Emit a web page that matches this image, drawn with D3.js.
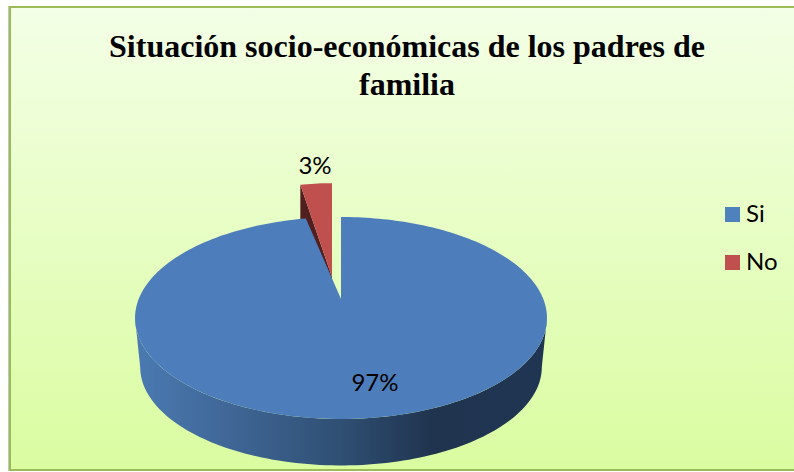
<!DOCTYPE html>
<html>
<head>
<meta charset="utf-8">
<script src="https://cdn.jsdelivr.net/npm/d3@7"></script>
<style>
  html, body { margin: 0; padding: 0; background: #fff; overflow: hidden; }
  svg { display: block; }
</style>
</head>
<body>
<div id="chart"></div>
<script>
// values (labels round to 97% / 3%)
const categories = ["Si", "No"];
const values = [96.7, 3.3];
const colors = ["#4f81bd", "#c0504d"];
const titleLines = ["Situación socio-económicas de los padres de", "familia"];

const W = 794, H = 472;

const svg = d3.select("#chart").append("svg").attr("width", W).attr("height", H);
const defs = svg.append("defs");

const bg = defs.append("linearGradient").attr("id", "bg").attr("x1", 0).attr("x2", 0).attr("y1", 0).attr("y2", 1);
bg.append("stop").attr("offset", "0%").attr("stop-color", "#f3ffe6");
bg.append("stop").attr("offset", "100%").attr("stop-color", "#dafca0");

const wall = defs.append("linearGradient").attr("id", "wall").attr("x1", 0).attr("x2", 1).attr("y1", 0).attr("y2", 0);
[[0, "#4a7ab2"], [0.2, "#41699a"], [0.5, "#2f4f73"], [0.72, "#20344f"], [1, "#1f3552"]].forEach(s => {
  wall.append("stop").attr("offset", s[0]).attr("stop-color", s[1]);
});

// frame
svg.append("rect").attr("x", 8).attr("y", 6).attr("width", W).attr("height", 465).attr("fill", "#c4c8bc");
svg.append("rect").attr("x", 10).attr("y", 7).attr("width", W).attr("height", 463)
  .attr("fill", "url(#bg)").attr("stroke", "#9bbb59").attr("stroke-width", 2);

// title
svg.append("g").selectAll("text").data(titleLines).join("text")
  .attr("x", 407)
  .attr("y", (d, i) => 57 + i * 38)
  .attr("text-anchor", "middle")
  .attr("font-family", "'Liberation Serif', serif")
  .attr("font-weight", "bold")
  .attr("font-size", 32)
  .text(d => d);

// the pie is tilted with a bit of perspective: the front is bigger than the back
const k = 0.188, R = 202.3, B = 97.4;
const depth = { dy: 49.5, s: 0.975 };
const cx = 341, cy = 299;

function project(a, o) {
  const u = Math.sin(a), v = -Math.cos(a), w = 1 - k * v;
  return [o.x + o.sx * R * u / w, o.y + o.sy * B * v / w];
}
const line = d3.line();
function arcPoints(a0, a1, o) {
  const n = Math.max(2, Math.ceil(Math.abs(a1 - a0) * 40));
  return d3.range(n + 1).map(i => project(a0 + (a1 - a0) * i / n, o));
}

const slices = d3.pie().sort(null).value(d => d)(values);
const si = slices[0], no = slices[1];

const siTop = { x: cx, y: cy, sx: 1, sy: 1 };
const siBottom = { x: cx, y: cy + depth.dy, sx: depth.s, sy: depth.s };
const noTop = { x: cx - 9, y: cy - 22, sx: 0.9, sy: 1.145 };

// exploded slice, dark cut face first
const apexNo = [noTop.x, noTop.y];
const leftNo = project(no.startAngle - 2 * Math.PI, noTop);
svg.append("path")
  .attr("d", line([leftNo, apexNo, [apexNo[0], apexNo[1] + 40], [leftNo[0], leftNo[1] + 40]]) + "Z")
  .attr("fill", "#521f20");
svg.append("path")
  .attr("d", line([apexNo].concat(arcPoints(no.startAngle - 2 * Math.PI, no.endAngle - 2 * Math.PI, noTop))) + "Z")
  .attr("fill", colors[1]);

// outer wall of the big slice
const edge = Math.acos(-k);
const wallPts = arcPoints(edge, 2 * Math.PI - edge, siTop).concat(arcPoints(2 * Math.PI - edge, edge, siBottom));
svg.append("path").attr("d", line(wallPts) + "Z").attr("fill", "url(#wall)");

// top face of the big slice
svg.append("path")
  .attr("d", line([[cx, cy]].concat(arcPoints(si.startAngle, si.endAngle, siTop))) + "Z")
  .attr("fill", "#4d7ebb");

// data labels
const labelFont = "Lato, 'Noto Sans', sans-serif";
const pct = d3.format(".0%");
const total = d3.sum(values);
const labelPos = [[375, 391], [315, 174]];
svg.append("g").selectAll("text").data(slices).join("text")
  .attr("x", (d, i) => labelPos[i][0])
  .attr("y", (d, i) => labelPos[i][1])
  .attr("text-anchor", "middle")
  .attr("font-family", labelFont)
  .attr("font-size", 24)
  .attr("fill", "#000")
  .text(d => pct(d.data / total));

// legend
const legend = svg.append("g").selectAll("g").data(categories).join("g")
  .attr("transform", (d, i) => `translate(725,${207 + i * 48})`);
legend.append("rect").attr("width", 15).attr("height", 15).attr("fill", (d, i) => colors[i]);
legend.append("text")
  .attr("x", 21).attr("y", 15)
  .attr("font-family", labelFont)
  .attr("font-size", 24)
  .text(d => d);
</script>
</body>
</html>
